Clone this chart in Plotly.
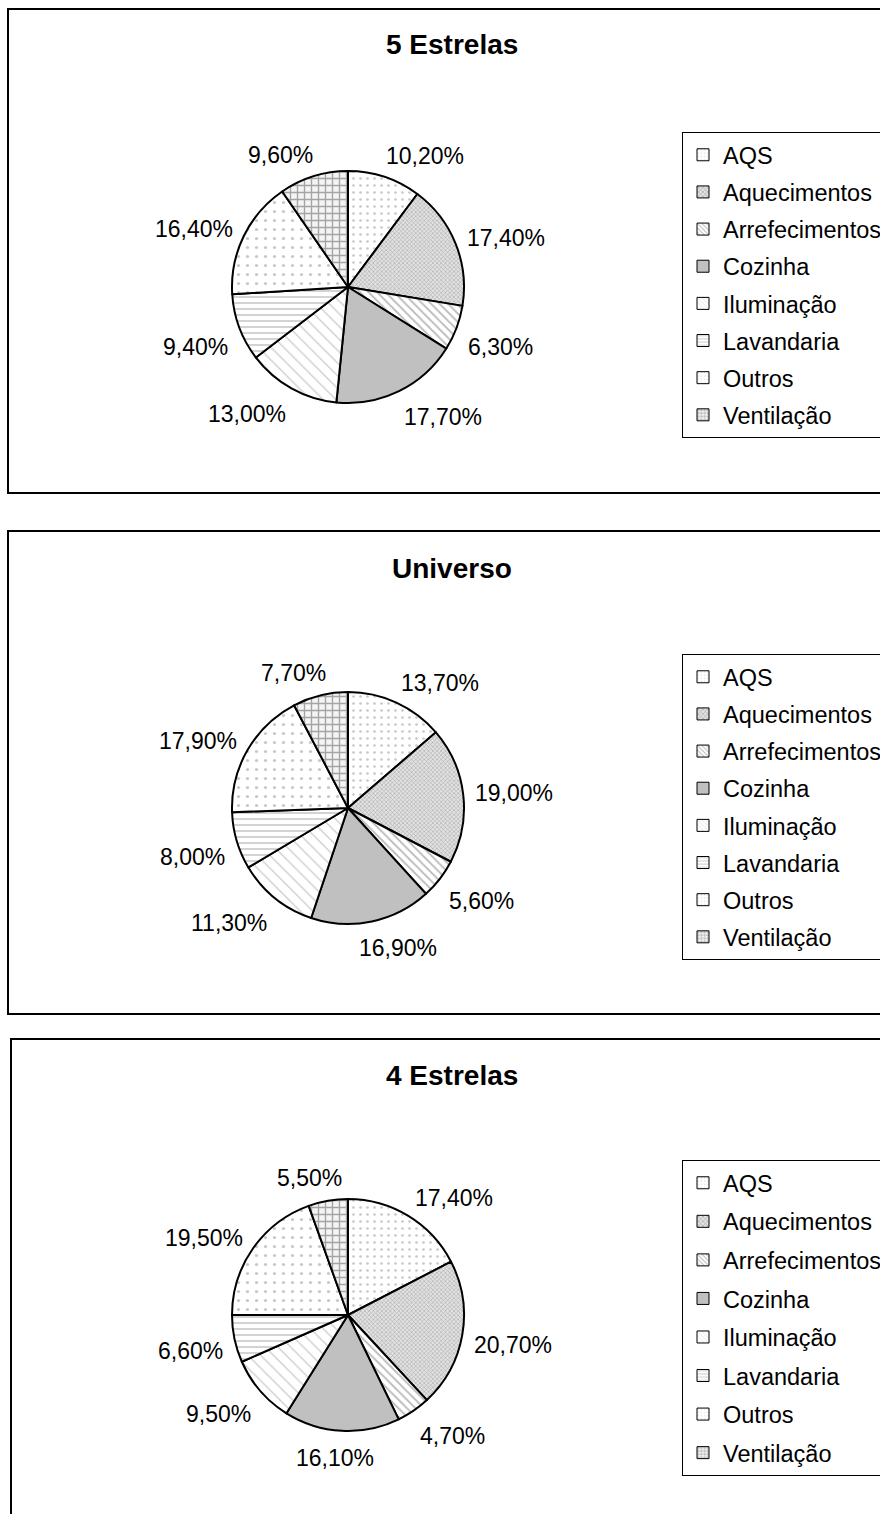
import math
import plotly.graph_objects as go

W, H = 880, 1514

categories = ["AQS", "Aquecimentos", "Arrefecimentos", "Cozinha",
              "Iluminação", "Lavandaria", "Outros", "Ventilação"]

titles = ["5 Estrelas", "Universo", "4 Estrelas"]
values_5_estrelas = [10.2, 17.4, 6.3, 17.7, 13.0, 9.4, 16.4, 9.6]
values_universo = [13.7, 19.0, 5.6, 16.9, 11.3, 8.0, 17.9, 7.7]
values_4_estrelas = [17.4, 20.7, 4.7, 16.1, 9.5, 6.6, 19.5, 5.5]
series = [values_5_estrelas, values_universo, values_4_estrelas]

# styling (grey fills / patterns, per category)
bg_colors = ["#ffffff", "#e2e2e2", "#ffffff", "#c0c0c0",
             "#ffffff", "#ffffff", "#ffffff", "#f4f4f4"]
fg_colors = ["#c8c8c8", "#a8a8a8", "#b8b8b8", "#c0c0c0",
             "#cdcdcd", "#bdbdbd", "#c8c8c8", "#a4a4a4"]
shapes_pat = [".", "x", "\\", "", "\\", "-", ".", "+"]
sizes_pat = [7, 3, 6, 8, 9, 6, 9, 7]
solidity_pat = [0.12, 0.35, 0.3, 0.3, 0.15, 0.22, 0.1, 0.35]

FONT = "Arial, Liberation Sans, sans-serif"
LABEL_SIZE = 23
LEGEND_SIZE = 23.5

# layout geometry in pixels
frames = [(8, 9, 940, 493), (8, 531, 940, 1014), (11, 1039, 940, 1560)]
pie_centers = [(348, 287), (348, 808), (348, 1315)]
pie_r = 116
title_pos = [(452, 45), (452, 568), (452, 1075)]
legend_pos = [(682, 132), (682, 654), (682, 1160)]
legend_gaps = [3.6, 3.6, 5]

# Arial advance widths (em) for label width estimation
CHAR_W = {",": 0.278, "%": 0.889}


def px(x):
    return x / W


def py(y):
    return 1 - y / H


def fmt(v):
    return f"{v:.2f}".replace(".", ",") + "%"


def text_width(s, size):
    return size * sum(CHAR_W.get(c, 0.556) for c in s)


fig = go.Figure()
annotations = []

for k in range(3):
    cx, cy = pie_centers[k]
    vals = series[k]
    fig.add_trace(go.Pie(
        labels=categories,
        values=vals,
        sort=False,
        direction="clockwise",
        rotation=0,
        domain=dict(x=[px(cx - pie_r), px(cx + pie_r)],
                    y=[py(cy + pie_r), py(cy - pie_r)]),
        textinfo="none",
        marker=dict(
            colors=bg_colors,
            line=dict(color="black", width=2),
            pattern=dict(shape=shapes_pat, fgcolor=fg_colors,
                         bgcolor=bg_colors, size=sizes_pat,
                         solidity=solidity_pat, fillmode="replace"),
        ),
        showlegend=False,
        hoverinfo="label+value",
    ))

    # outside data labels (Excel-like placement around each slice mid-angle)
    total = sum(vals)
    cum = 0.0
    R = pie_r + 12
    for v in vals:
        mid = (cum + v / 2) / total * 2 * math.pi
        cum += v
        ux, uy = math.sin(mid), -math.cos(mid)
        txt = fmt(v)
        w = text_width(txt, LABEL_SIZE)
        ox = (w / 2) * max(-1.0, min(1.0, 3 * ux))
        oy = 15 * min(1.0, 3 * uy) if uy > 0 else -11 * uy * uy
        lx = cx + ux * R + ox
        ly = cy + uy * R + oy
        annotations.append(dict(text=txt, x=px(lx), y=py(ly),
                                xref="paper", yref="paper", showarrow=False,
                                xanchor="center", yanchor="middle",
                                font=dict(family=FONT, size=LABEL_SIZE,
                                          color="black")))

    lname = "legend" if k == 0 else f"legend{k + 1}"
    for i, cat in enumerate(categories):
        fig.add_trace(go.Bar(
            x=[0], y=[1], name=cat,
            legend=lname,
            legendgroup=f"p{k}c{i}",
            marker=dict(
                color=bg_colors[i],
                line=dict(color="black", width=1),
                pattern=dict(shape=shapes_pat[i], fgcolor=fg_colors[i],
                             bgcolor=bg_colors[i], size=4,
                             solidity=solidity_pat[i], fillmode="replace"),
            ),
            showlegend=True,
            hoverinfo="skip",
        ))

shapes = []
for (x0, y0, x1, y1) in frames:
    shapes.append(dict(type="rect", xref="paper", yref="paper",
                       x0=px(x0), x1=px(x1), y0=py(y1), y1=py(y0),
                       line=dict(color="black", width=2),
                       fillcolor="rgba(0,0,0,0)", layer="below"))

for k in range(3):
    tx, ty = title_pos[k]
    annotations.append(dict(text=f"<b>{titles[k]}</b>", x=px(tx), y=py(ty),
                            xref="paper", yref="paper", showarrow=False,
                            xanchor="center", yanchor="middle",
                            font=dict(family=FONT, size=28, color="black")))

legend_layouts = {}
for k in range(3):
    lx, ly = legend_pos[k]
    lname = "legend" if k == 0 else f"legend{k + 1}"
    legend_layouts[lname] = dict(
        x=px(lx), y=py(ly), xanchor="left", yanchor="top",
        xref="paper", yref="paper",
        bgcolor="white", bordercolor="black", borderwidth=1,
        font=dict(family=FONT, size=LEGEND_SIZE, color="black"),
        traceorder="grouped", tracegroupgap=legend_gaps[k],
        itemclick=False, itemdoubleclick=False,
    )

fig.update_layout(
    width=W, height=H,
    margin=dict(l=0, r=0, t=0, b=0, autoexpand=False),
    paper_bgcolor="white", plot_bgcolor="rgba(0,0,0,0)",
    showlegend=True,
    shapes=shapes,
    annotations=annotations,
    xaxis=dict(visible=False, range=[10, 11], fixedrange=True),
    yaxis=dict(visible=False, range=[10, 11], fixedrange=True),
    **legend_layouts,
)

fig.write_html("out.html")
